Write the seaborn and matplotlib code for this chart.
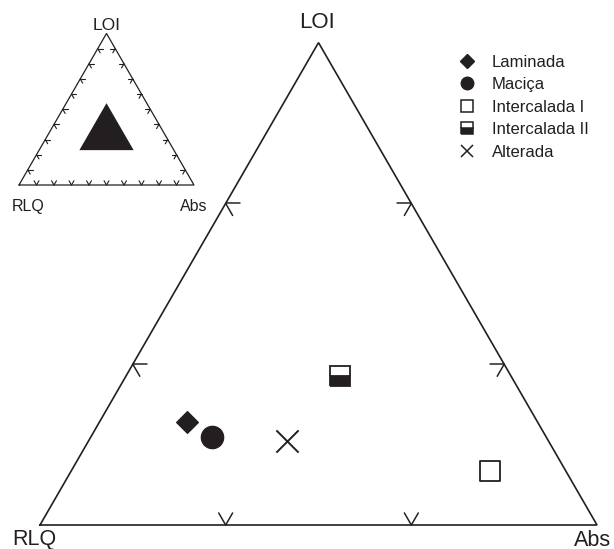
import numpy as np
import pandas as pd
import matplotlib
matplotlib.use("Agg")
import matplotlib.pyplot as plt
import seaborn as sns
from matplotlib.lines import Line2D

# ---------------- data (ternary compositions: RLQ, Abs, LOI) ----------------
samples = ["Laminada", "Maciça", "Intercalada I", "Intercalada II", "Alterada"]
rlq_vals = [0.629, 0.600, 0.136, 0.307, 0.470]
abs_vals = [0.157, 0.218, 0.752, 0.384, 0.356]
loi_vals = [0.214, 0.182, 0.112, 0.309, 0.174]

# inset: shaded field (vertices as RLQ, Abs, LOI)
field_rlq = [0.54, 0.23, 0.23]
field_abs = [0.23, 0.54, 0.23]
field_loi = [0.23, 0.23, 0.54]

main_ticks = [1 / 3, 2 / 3]
inset_ticks = [0.1, 0.2, 0.3, 0.4, 0.5, 0.6, 0.7, 0.8, 0.9]

vertex_labels = ["RLQ", "Abs", "LOI"]

# ---------------- styling ----------------
sns.set_style("white")
plt.rcParams["font.family"] = ["Liberation Sans", "DejaVu Sans"]
INK = "#231f20"
S3 = np.sqrt(3) / 2

W, H = 614, 549
fig = plt.figure(figsize=(W / 100, H / 100), dpi=100)
ax = fig.add_axes([0, 0, 1, 1])

# pixel geometry of the main triangle
X0, Y0, SIDE = 40.0, 525.0, 557.0
ax.set_xlim(-X0 / SIDE, (W - X0) / SIDE)
ax.set_ylim((Y0 - H) / SIDE, Y0 / SIDE)
ax.set_aspect("equal")
ax.axis("off")


def tern(r, a, l):
    r, a, l = np.asarray(r, float), np.asarray(a, float), np.asarray(l, float)
    s = r + a + l
    a, l = a / s, l / s
    return a + l / 2, l * S3


def px(x, y):
    return (x - X0) / SIDE, (Y0 - y) / SIDE


# inset placement (pixel coords of inset left vertex and side)
IX0, IY0, ISIDE = 19.0, 185.0, 175.0
isc = ISIDE / SIDE
ioff = px(IX0, IY0)


def to_inset(x, y):
    return ioff[0] + isc * np.asarray(x), ioff[1] + isc * np.asarray(y)


e_b = np.array([1.0, 0.0])
e_l = np.array([0.5, S3])
e_r = np.array([-0.5, S3])


def draw_triangle(transform, ticks, tlen, lw):
    vx = np.array([0, 1, 0.5, 0])
    vy = np.array([0, 0, S3, 0])
    tx, ty = transform(vx, vy)
    ax.plot(tx, ty, color=INK, lw=lw, solid_joinstyle="miter", zorder=2)
    for t in ticks:
        specs = [
            (np.array([t, 0.0]), [e_l, e_r]),          # bottom
            (t * e_l, [e_b, -e_r]),                     # left
            (np.array([1.0, 0.0]) + t * e_r, [-e_b, -e_l]),  # right
        ]
        for p, dirs in specs:
            for d in dirs:
                q = p + tlen * d
                sx, sy = transform([p[0], q[0]], [p[1], q[1]])
                ax.plot(sx, sy, color=INK, lw=lw * 0.9, zorder=2)


ident = lambda x, y: (np.asarray(x), np.asarray(y))

# main triangle
draw_triangle(ident, main_ticks, 0.025, 1.2)
# inset triangle
draw_triangle(to_inset, inset_ticks, 0.028, 0.9)

# inset shaded field
fx, fy = tern(field_rlq, field_abs, field_loi)
fx, fy = to_inset(fx, fy)
ax.fill(fx, fy, color=INK, lw=0, zorder=3)

# vertex labels
ax.text(*px(317, 23), vertex_labels[2], fontsize=16, ha="center", va="center", color=INK)
ax.text(*px(34, 540), vertex_labels[0], fontsize=15.5, ha="center", va="center", color=INK)
ax.text(*px(593, 540), vertex_labels[1], fontsize=15.5, ha="center", va="center", color=INK)
ax.text(*px(107, 25), vertex_labels[2], fontsize=12.5, ha="center", va="center", color=INK)
ax.text(*px(28, 207), vertex_labels[0], fontsize=11.5, ha="center", va="center", color=INK)
ax.text(*px(194, 207), vertex_labels[1], fontsize=11.5, ha="center", va="center", color=INK)

# data points
xs, ys = tern(rlq_vals, abs_vals, loi_vals)
df = pd.DataFrame({"sample": samples, "x": xs, "y": ys})

styles = {
    "Laminada": dict(marker="D", ms=11, mfc=INK, mec=INK, mew=1.0),
    "Maciça": dict(marker="o", ms=16, mfc=INK, mec=INK, mew=1.0),
    "Intercalada I": dict(marker="s", ms=14, mfc="white", mec=INK, mew=1.3),
    "Intercalada II": dict(marker="s", ms=14, mfc=INK, mfcalt="white", mec=INK,
                           mew=1.3, fillstyle="bottom"),
    "Alterada": dict(marker="x", ms=16, mec=INK, mew=1.4),
}

for name in ["Laminada", "Maciça", "Intercalada I", "Alterada"]:
    st = styles[name]
    sub = df[df["sample"] == name]
    if st["marker"] == "x":
        sns.scatterplot(data=sub, x="x", y="y", marker="x", s=st["ms"] ** 2,
                        color=INK, linewidth=st["mew"], ax=ax, zorder=4, legend=False)
    else:
        sns.scatterplot(data=sub, x="x", y="y", marker=st["marker"], s=st["ms"] ** 2,
                        color=st["mfc"], edgecolor=st["mec"], linewidth=st["mew"],
                        ax=ax, zorder=4, legend=False)

sub = df[df["sample"] == "Intercalada II"]
st = styles["Intercalada II"]
ax.plot(sub["x"], sub["y"], ls="none", marker="s", ms=st["ms"], mfc=INK,
        markerfacecoloralt="white", mec=INK, mew=st["mew"], fillstyle="bottom", zorder=4)
ax.set_xlabel("")
ax.set_ylabel("")

# legend
leg_ms = {"Laminada": 6.8, "Maciça": 9, "Intercalada I": 8, "Intercalada II": 8, "Alterada": 9}
handles = []
for name in samples:
    st = dict(styles[name])
    st["ms"] = leg_ms[name]
    st["mew"] = min(st.get("mew", 1.0), 1.1)
    mfcalt = st.pop("mfcalt", None)
    h = Line2D([], [], ls="none", **st)
    if mfcalt is not None:
        h.set_markerfacecoloralt(mfcalt)
    handles.append(h)

LFS = 12
fs_px = LFS * 100 / 72
leg = ax.legend(handles, samples, loc="upper left",
                bbox_to_anchor=((467 - fs_px / 2) / W, 1 - (63 - fs_px / 2) / H),
                bbox_transform=fig.transFigure,
                frameon=False, fontsize=LFS, handlelength=1.0, handletextpad=0.98,
                labelspacing=0.45, borderpad=0, borderaxespad=0)
for t in leg.get_texts():
    t.set_color(INK)

fig.savefig("out.png", dpi=100)
